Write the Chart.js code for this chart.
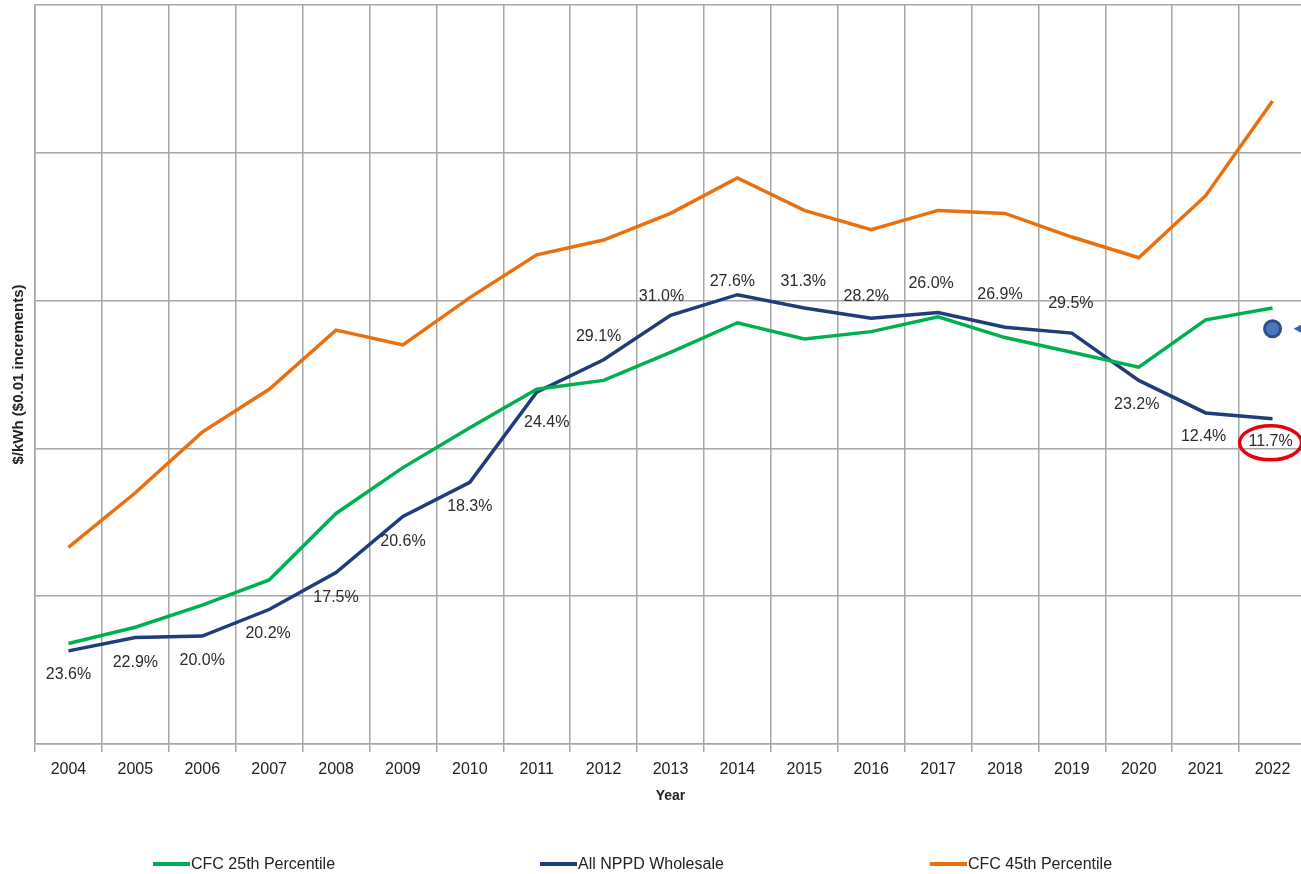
<!DOCTYPE html>
<html>
<head>
<meta charset="utf-8">
<script src="https://cdn.jsdelivr.net/npm/chart.js@4.4.1/dist/chart.umd.min.js"></script>
<style>
  html, body { margin: 0; padding: 0; overflow: hidden; background: #fff; }
  #wrap { position: relative; width: 1306px; height: 874px; }
  .leg { position: absolute; top: 855px; font: 16px "Liberation Sans", Arial, sans-serif; color: #222; display: flex; align-items: center; }
  .leg span.line { display: inline-block; width: 37px; height: 4px; margin-right: 1px; }
</style>
</head>
<body>
<div id="wrap">
  <canvas id="chart" width="1306" height="874"></canvas>
  <div class="leg" style="left:153px"><span class="line" style="background:#00b050"></span>CFC 25th Percentile</div>
  <div class="leg" style="left:540px"><span class="line" style="background:#1f3d7a"></span>All NPPD Wholesale</div>
  <div class="leg" style="left:930px"><span class="line" style="background:#e8700e"></span>CFC 45th Percentile</div>
</div>
<script>
let years = ['2004', '2005', '2006', '2007', '2008', '2009', '2010', '2011', '2012', '2013',
    '2014', '2015', '2016', '2017', '2018', '2019', '2020', '2021', '2022'];

let cfc25 = [0.0468, 0.0479, 0.0494, 0.0511, 0.0556, 0.0587, 0.0614, 0.0640, 0.0646, 0.0665,
    0.0685, 0.0674, 0.0679, 0.0689, 0.0675, 0.0665, 0.0655, 0.0687, 0.0695];

let nppd = [0.0463, 0.0472, 0.0473, 0.0491, 0.0516, 0.0554, 0.0577, 0.0638, 0.0660, 0.0690,
    0.0704, 0.0695, 0.0688, 0.0692, 0.0682, 0.0678, 0.0646, 0.0624, 0.0620];

let cfc45 = [0.0533, 0.0570, 0.0611, 0.0640, 0.0680, 0.0670, 0.0702, 0.0731, 0.0741, 0.0759,
    0.0783, 0.0761, 0.0748, 0.0761, 0.0759, 0.0743, 0.0729, 0.0771, 0.0835];

let pctLabels = ['23.6%', '22.9%', '20.0%', '20.2%', '17.5%', '20.6%', '18.3%', '24.4%', '29.1%', '31.0%',
    '27.6%', '31.3%', '28.2%', '26.0%', '26.9%', '29.5%', '23.2%', '12.4%', '11.7%'];

let marker2022 = 0.0681;

// where each % label sits relative to its point (px)
let labelOffsets = [[0, 24], [0, 25], [0, 24], [-1, 24], [0, 25], [0, 25], [0, 24], [10, 30], [-5, -23], [-9, -19],
    [-5, -13], [-1, -26], [-5, -22], [-7, -29], [-5, -33], [-1, -30], [-2, 24], [-2, 24], [-2, 23]];

const FONT = '"Liberation Sans", Arial, sans-serif';

let labelPlugin = {
    id: 'pctLabels',
    afterDatasetsDraw(chart) {
        let c = chart.ctx;
        let meta = chart.getDatasetMeta(1);
        c.save();
        c.font = '16px ' + FONT;
        c.fillStyle = '#2b2b2b';
        c.textAlign = 'center';
        c.textBaseline = 'middle';
        meta.data.forEach((pt, i) => {
            let x = pt.x + labelOffsets[i][0];
            let y = pt.y + labelOffsets[i][1];
            c.fillText(pctLabels[i], x, y);
            if (i === pctLabels.length - 1) {
                c.strokeStyle = '#e8000b';
                c.lineWidth = 3.5;
                c.beginPath();
                c.ellipse(x, y + 1, 31, 17, 0, 0, Math.PI * 2);
                c.stroke();
            }
        });
        // arrow pointing at the 2022 marker
        let m = chart.getDatasetMeta(3).data[18];
        c.fillStyle = '#3a63a8';
        c.beginPath();
        c.moveTo(m.x + 21, m.y);
        c.lineTo(m.x + 32, m.y - 6);
        c.lineTo(m.x + 32, m.y + 6);
        c.closePath();
        c.fill();
        c.restore();
    }
};

let ctx = document.getElementById('chart').getContext('2d');

let markerData = years.map((y, i) => i === years.length - 1 ? marker2022 : null);

let chart = new Chart(ctx, {
    type: 'line',
    data: {
        labels: years,
        datasets: [{
            label: 'CFC 25th Percentile',
            data: cfc25,
            borderColor: '#00b050',
            borderWidth: 3.5,
            pointRadius: 0,
            tension: 0
        }, {
            label: 'All NPPD Wholesale',
            data: nppd,
            borderColor: '#1f3d7a',
            borderWidth: 3.5,
            pointRadius: 0,
            tension: 0
        }, {
            label: 'CFC 45th Percentile',
            data: cfc45,
            borderColor: '#e8700e',
            borderWidth: 3.5,
            pointRadius: 0,
            tension: 0
        }, {
            label: 'marker',
            data: markerData,
            showLine: false,
            pointRadius: 8,
            pointBackgroundColor: '#4a78c0',
            pointBorderColor: '#2c4f8c',
            pointBorderWidth: 3
        }]
    },
    options: {
        responsive: false,
        animation: false,
        layout: { autoPadding: false, padding: { top: 5, bottom: 60, right: 0, left: 0 } },
        plugins: {
            legend: { display: false },
            tooltip: { enabled: false }
        },
        scales: {
            x: {
                offset: true,
                grid: { offset: true, color: '#a6a6a6', lineWidth: 1.5, tickLength: 8 },
                border: { color: '#a6a6a6', width: 1.5 },
                ticks: { color: '#222', font: { family: FONT, size: 16 }, padding: 8, maxRotation: 0 },
                title: { display: true, text: 'Year', color: '#222', font: { family: FONT, size: 14, weight: 'bold' }, padding: { top: 0, bottom: 9 } },
                afterFit(s) { s.height = 70; }
            },
            y: {
                min: 0.04,
                max: 0.09,
                ticks: { display: false, stepSize: 0.01 },
                grid: { color: '#a6a6a6', lineWidth: 1.5, drawTicks: false },
                border: { color: '#a6a6a6', width: 1.5 },
                title: { display: true, text: '$/kWh ($0.01 increments)', color: '#222', font: { family: FONT, size: 15, weight: 'bold' }, padding: { top: 10, bottom: 0 } },
                afterFit(s) { s.width = 35; }
            }
        }
    },
    plugins: [labelPlugin]
});
</script>
</body>
</html>
